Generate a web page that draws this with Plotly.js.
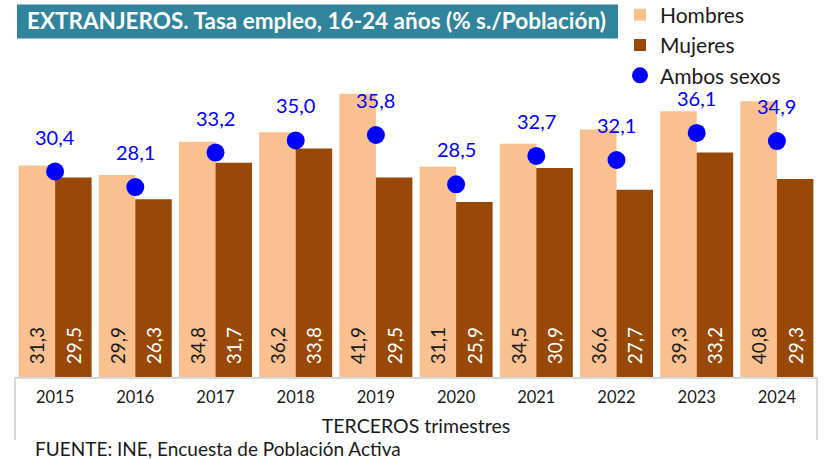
<!DOCTYPE html>
<html>
<head>
<meta charset="utf-8">
<script src="https://cdn.plot.ly/plotly-3.0.1.min.js"></script>
<style>
html,body{margin:0;padding:0;background:#fff;}
#chart{width:823px;height:459px;}
</style>
</head>
<body>
<div id="chart"></div>
<script>
const years = ['2015','2016','2017','2018','2019','2020','2021','2022','2023','2024'];
const hombres = [31.3, 29.9, 34.8, 36.2, 41.9, 31.1, 34.5, 36.6, 39.3, 40.8];
const mujeres = [29.5, 26.3, 31.7, 33.8, 29.5, 25.9, 30.9, 27.7, 33.2, 29.3];
const ambos = [30.4, 28.1, 33.2, 35.0, 35.8, 28.5, 32.7, 32.1, 36.1, 34.9];

const W = 823, H = 459;
const mL = 15, mR = 6, mT = 38.5, mB = 82;
const pw = W - mL - mR, ph = H - mT - mB;
const px = x => (x - mL) / pw;
const py = y => (H - mB - y) / ph;
const fmt = v => v.toFixed(1).replace('.', ',');
const FONT = 'Lato, "Open Sans", sans-serif';
const NB = '\u00A0\u00A0';

const traces = [
  {
    type: 'bar', name: 'Hombres', x: years, y: hombres,
    marker: {color: '#FAC090'},
    texttemplate: NB + '%{y:.1f}', textposition: 'inside', insidetextanchor: 'start',
    textangle: -90, constraintext: 'none',
    textfont: {size: 19, color: '#1a1a1a', family: FONT},
    hoverinfo: 'x+y+name'
  },
  {
    type: 'bar', name: 'Mujeres', x: years, y: mujeres,
    marker: {color: '#984807'},
    texttemplate: NB + '%{y:.1f}', textposition: 'inside', insidetextanchor: 'start',
    textangle: -90, constraintext: 'none',
    textfont: {size: 19, color: '#ffffff', family: FONT},
    hoverinfo: 'x+y+name'
  },
  {
    type: 'scatter', mode: 'markers', name: 'Ambos sexos', x: years, y: ambos,
    marker: {color: '#0000FF', size: 18},
    hoverinfo: 'x+y+name'
  }
];

const annotations = years.map((yr, i) => ({
  x: i, y: ambos[i], xref: 'x', yref: 'y', text: fmt(ambos[i]),
  showarrow: false, yshift: 35, font: {size: 20, color: '#0000FF', family: FONT}
}));
annotations.push({
  xref: 'paper', yref: 'paper', x: px(33), y: py(449), xanchor: 'left', yanchor: 'middle',
  text: 'FUENTE: INE, Encuesta de Población Activa', showarrow: false,
  font: {size: 19, color: '#1a1a1a', family: FONT}
});

const layout = {
  width: W, height: H,
  margin: {l: mL, r: mR, t: mT, b: mB, pad: 0, autoexpand: false},
  paper_bgcolor: '#fff', plot_bgcolor: '#fff',
  separators: ',.',
  font: {family: FONT, color: '#1a1a1a'},
  barmode: 'group', bargap: 0.09, bargroupgap: 0,
  showlegend: true,
  legend: {
    x: px(620), y: py(-6), xanchor: 'left', yanchor: 'top',
    font: {size: 21, color: '#1a1a1a', family: FONT},
    bgcolor: 'rgba(0,0,0,0)', traceorder: 'normal', itemwidth: 30
  },
  title: {
    text: 'EXTRANJEROS. Tasa empleo, 16-24 años (% s./Población)',
    xref: 'container', yref: 'container', x: 27 / W, y: 1 - 21 / H,
    xanchor: 'left', yanchor: 'middle',
    font: {size: 22.5, color: '#ffffff', family: FONT, weight: 'bold'}
  },
  xaxis: {
    type: 'category', range: [-0.5, 9.5], showgrid: false, zeroline: false,
    showline: true, linecolor: '#d9d9d9', linewidth: 2,
    ticks: '', tickfont: {size: 16.5, color: '#1a1a1a', family: FONT},
    ticklabelstandoff: 4,
    title: {text: 'TERCEROS trimestres', font: {size: 19.5, color: '#1a1a1a', family: FONT}, standoff: 14}
  },
  yaxis: {
    range: [0, 50], visible: false, showgrid: false, zeroline: false, fixedrange: true
  },
  shapes: [
    {type: 'rect', xref: 'paper', yref: 'paper', x0: px(17), x1: px(618), y0: py(38), y1: py(4),
     fillcolor: '#31849B', line: {width: 0}, layer: 'below'},
    {type: 'line', xref: 'paper', yref: 'paper', x0: 0, x1: 0, y0: 0, y1: py(440),
     line: {color: '#d9d9d9', width: 2}},
    {type: 'line', xref: 'paper', yref: 'paper', x0: 1, x1: 1, y0: 0, y1: py(440),
     line: {color: '#d9d9d9', width: 2}}
  ],
  annotations: annotations
};

Plotly.newPlot('chart', traces, layout, {displayModeBar: false});
</script>
</body>
</html>
